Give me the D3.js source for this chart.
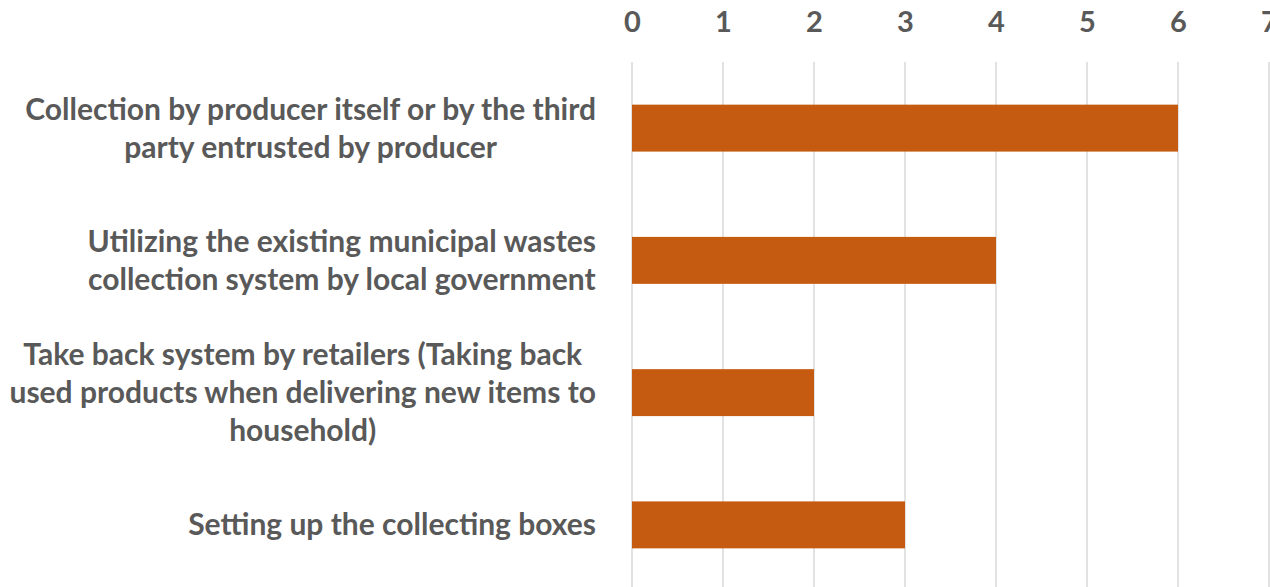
<!DOCTYPE html>
<html>
<head>
<meta charset="utf-8">
<script src="https://cdn.jsdelivr.net/npm/d3@7"></script>
<style>
  body { margin: 0; background: #fff; }
  svg text { font-family: "Lato", "Open Sans", sans-serif; font-weight: bold; fill: #595959; }
</style>
</head>
<body>
<svg id="chart" width="1270" height="587"></svg>
<script>
// chart data
const categories = [
    "Collection by producer itself or by the third|party entrusted by producer",
    "Utilizing the existing municipal wastes|collection system by local government",
    "Take back system by retailers (Taking back|used products when delivering new items to|household)",
    "Setting up the collecting boxes"
];
const values = [6, 4, 2, 3];
const tickValues = [0, 1, 2, 3, 4, 5, 6, 7];

const svg = d3.select("#chart");
const barColor = "#C55A11";

const x = d3.scaleLinear().domain([0, 7]).range([632, 1269]);
const y = d3.scaleBand().domain(categories).range([62, 591]).paddingInner(0.645).paddingOuter(0.3225);

// gridlines
svg.append("g").selectAll("line")
    .data(tickValues).enter().append("line")
    .attr("x1", d => x(d)).attr("x2", d => x(d))
    .attr("y1", 62).attr("y2", 587)
    .attr("stroke", "#d9d9d9").attr("stroke-width", 1.5);

// top axis
const axis = svg.append("g").attr("transform", "translate(0,32)")
    .call(d3.axisTop(x).tickValues(tickValues).tickSize(0).tickPadding(0).tickFormat(d3.format("d")));
axis.select(".domain").remove();
axis.selectAll("text").style("font-size", "29px").attr("dy", 0);

// category labels, lines centred in a block that is right aligned
const fontSize = 30, lineH = 38, rightEdge = 596;
categories.forEach(function(c) {
    const lines = c.split("|");
    const g = svg.append("g");
    const t = g.append("text").style("font-size", fontSize + "px").attr("text-anchor", "middle");
    const cy = y(c) + y.bandwidth() / 2;
    lines.forEach(function(l, j) {
        t.append("tspan").attr("x", 0)
            .attr("y", cy + (j - (lines.length - 1) / 2) * lineH)
            .attr("dy", "0.35em").text(l);
    });
    const w = t.node().getBBox().width;
    g.attr("transform", "translate(" + (rightEdge - w / 2) + ",0)");
});

// bars
svg.append("g").selectAll("rect")
    .data(values).enter().append("rect")
    .attr("x", x(0))
    .attr("y", (d, i) => y(categories[i]))
    .attr("width", d => x(d) - x(0))
    .attr("height", y.bandwidth())
    .attr("fill", barColor);
</script>
</body>
</html>
